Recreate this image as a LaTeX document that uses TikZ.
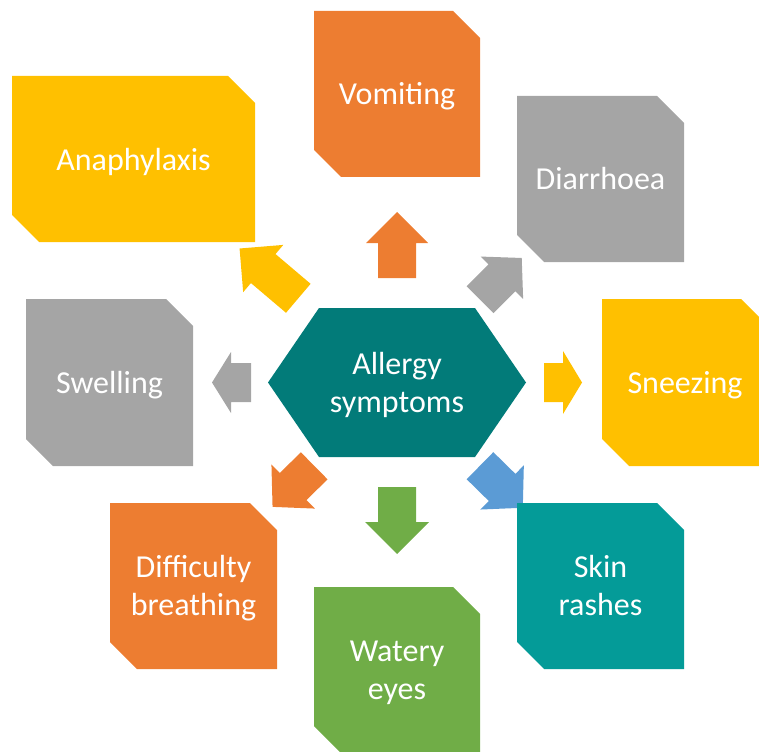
\documentclass[tikz,border=0pt]{standalone}
\usepackage{fontspec}
\setmainfont{Carlito}

\definecolor{symorange}{HTML}{ED7D31}
\definecolor{symgray}{HTML}{A5A5A5}
\definecolor{symgold}{HTML}{FFC000}
\definecolor{symblue}{HTML}{5B9BD5}
\definecolor{symgreen}{HTML}{70AD47}
\definecolor{hubteal}{HTML}{027B79}
\definecolor{symteal}{HTML}{049B98}

% Box with chamfered top-right and bottom-left corners, label at its centre.
% #1 name, #2 x1, #3 y1, #4 x2, #5 y2, #6 colour, #7 text, #8 extra label options
\newcommand\symbox[8]{%
  \fill[#6] (#2,#3) -- (#4-27,#3) -- (#4,#3+27) -- (#4,#5) -- (#2+27,#5) -- (#2,#5-27) -- cycle;
  \node[label text,#8] (#1) at ({(#2+#4)/2},{(#3+#5)/2}) {#7};}

% Block arrow: #1 colour, #2 tail x, #3 tail y, #4 angle, #5 length,
% #6 head length, #7 head width, #8 shaft width
\newcommand\blockarr[8]{%
  \fill[#1, shift={(#2,#3)}, rotate=#4]
    (0,-#8/2) -- (#5-#6,-#8/2) -- (#5-#6,-#7/2) -- (#5,0)
    -- (#5-#6,#7/2) -- (#5-#6,#8/2) -- (0,#8/2) -- cycle;}

\begin{document}
\begin{tikzpicture}[x=1pt,y=-1pt,
  label text/.style={text=white, align=center, inner sep=0pt, yshift=-2.5pt,
    font=\fontsize{32}{38}\selectfont}]
\useasboundingbox (0,0) rectangle (759,751);
\clip (0,0) rectangle (759,751);

% arrows radiating from the hub
\blockarr{symorange}{397}{278}{90}{66}{31}{62}{38}
\blockarr{symgreen}{397}{487}{-90}{67}{32}{64}{38}
\blockarr{symgray}{251}{382.5}{180}{39}{19}{61}{39}
\blockarr{symgold}{544}{382.5}{0}{38}{19}{63}{39}
\blockarr{symgold}{298.3}{298.3}{139.7}{77}{31}{62}{38}
\blockarr{symgray}{480}{299.7}{45}{59}{28}{60}{38}
\blockarr{symblue}{480}{465.7}{-44.5}{60}{29}{62}{38}
\blockarr{symorange}{314.2}{465.8}{-135.4}{58.5}{29}{62}{38}

% central hexagon
\fill[hubteal] (268,382.5) -- (319,308) -- (475,308) -- (526,382.5) -- (475,457) -- (319,457) -- cycle;
\node[label text] (hub) at (397,382.5) {Allergy\\symptoms};

% symptom boxes
\symbox{anaphylaxis}{12}{76}{255}{242}{symgold}{Anaphylaxis}{}
\symbox{vomiting}{314}{11}{480}{177}{symorange}{Vomiting}{}
\symbox{diarrhoea}{517}{96}{684}{262}{symgray}{Diarrhoea}{yshift=3pt}
\symbox{sneezing}{602}{299}{768}{466}{symgold}{Sneezing}{}
\symbox{swelling}{26}{299}{193}{466}{symgray}{Swelling}{}
\symbox{breathing}{110}{503}{277}{669}{symorange}{Difficulty\\breathing}{}
\symbox{watery}{314}{587}{480}{753}{symgreen}{Watery\\eyes}{}
\symbox{skin}{517}{503}{684}{669}{symteal}{Skin\\rashes}{yshift=3pt}
\end{tikzpicture}
\end{document}
